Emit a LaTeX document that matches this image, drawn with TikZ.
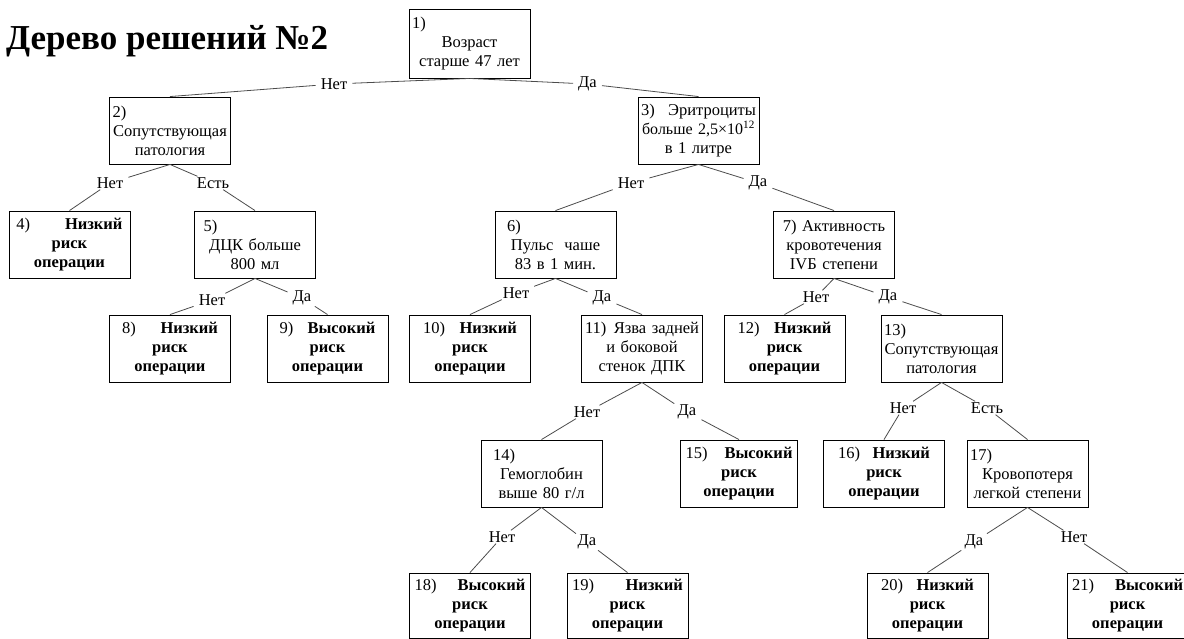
\documentclass[tikz,border=0pt]{standalone}
\usepackage{fontspec}
\setmainfont{Liberation Serif}
\newcommand{\bx}{\fontsize{16.5}{19}\selectfont}
\newcommand{\spread}[3]{\makebox[#1pt]{#2\hfill#3}}
\begin{document}
\begin{tikzpicture}[x=1pt, y=-1pt,
    box/.style={draw, line width=0.9pt, inner xsep=3pt, inner ysep=0pt, text width=115pt, minimum height=67pt, align=center, font=\bx},
    ans/.style={inner xsep=5pt, inner ysep=1pt, font=\bx},
    link/.style={draw=black!70, line width=0.8pt}]
    \useasboundingbox (0,0) rectangle (1184,639);
    % title
    \node[anchor=base west, inner sep=0pt, font=\fontsize{35}{40}\selectfont\bfseries] (title) at (6,50) {Дерево решений №2};
    % root
    \node[box, minimum height=69pt] (b1) at (469.5,43.5) {1)\hfill\mbox{}\\Возраст\\старше 47 лет};
    % second level
    \node[box] (b2) at (170,130.5) {2)\hfill\mbox{}\\Сопутствующая\\патология};
    \node[box] (b3) at (698.5,130.5) {\spread{115}{3)}{Эритроциты}\\\makebox[115pt]{\fontsize{16}{19}\selectfont больше 2,5×10\textsuperscript{12}}\\в 1 литре};
    % third level
    \node[box] (b4) at (69.5,244.5) {\spread{106}{4)}{\textbf{Низкий}}\\\textbf{риск}\\\textbf{операции}};
    \node[box] (b5) at (255,244.5) {\hspace*{6pt}5)\hfill\mbox{}\\ДЦК больше\\800 мл};
    \node[box] (b6) at (555.5,244.5) {\hspace*{9pt}6)\hfill\mbox{}\\Пульс\ \ чаше\\83 в 1 мин.};
    \node[box] (b7) at (834,244.5) {7) Активность\\кровотечения\\IVБ степени};
    % fourth level
    \node[box] (b8) at (170,348.5) {\spread{96}{8)}{\textbf{Низкий}}\\\textbf{риск}\\\textbf{операции}};
    \node[box] (b9) at (327.5,348.5) {\spread{96}{9)}{\textbf{Высокий}}\\\textbf{риск}\\\textbf{операции}};
    \node[box] (b10) at (470,348.5) {\spread{94}{10)}{\textbf{Низкий}}\\\textbf{риск}\\\textbf{операции}};
    \node[box] (b11) at (642,348.5) {\spread{114}{11)}{Язва задней}\\и боковой\\стенок ДПК};
    \node[box] (b12) at (784.5,348.5) {\spread{94}{12)}{\textbf{Низкий}}\\\textbf{риск}\\\textbf{операции}};
    \node[box] (b13) at (941.5,348.5) {13)\hfill\mbox{}\\Сопутствующая\\патология};
    % fifth level
    \node[box] (b14) at (541.5,473.5) {\hspace*{9pt}14)\hfill\mbox{}\\Гемоглобин\\выше 80 г/л};
    \node[box, text width=111pt] (b15) at (739,473.5) {\spread{107}{15)}{\textbf{Высокий}}\\\textbf{риск}\\\textbf{операции}};
    \node[box] (b16) at (884,473.5) {\spread{92}{16)}{\textbf{Низкий}}\\\textbf{риск}\\\textbf{операции}};
    \node[box] (b17) at (1027.5,473.5) {17)\hfill\mbox{}\\Кровопотеря\\легкой степени};
    % sixth level
    \node[box, minimum height=65pt] (b18) at (470,605.5) {\spread{111}{18)}{\textbf{Высокий}}\\\textbf{риск}\\\textbf{операции}};
    \node[box, minimum height=65pt] (b19) at (627.5,605.5) {\spread{111}{19)}{\textbf{Низкий}}\\\textbf{риск}\\\textbf{операции}};
    \node[box, minimum height=65pt] (b20) at (927.5,605.5) {\spread{93}{20)}{\textbf{Низкий}}\\\textbf{риск}\\\textbf{операции}};
    \node[box, minimum height=65pt] (b21) at (1127.5,605.5) {\spread{111}{21)}{\textbf{Высокий}}\\\textbf{риск}\\\textbf{операции}};
    % answers
    \node[ans] (n1) at (334,84) {Нет};
    \node[ans] (d1) at (587.5,84) {Да};
    \node[ans] (n2) at (110,183) {Нет};
    \node[ans] (e2) at (213,183) {Есть};
    \node[ans] (n3) at (631,183) {Нет};
    \node[ans] (d3) at (758,183) {Да};
    \node[ans] (n5) at (212,300) {Нет};
    \node[ans] (d5) at (302,298) {Да};
    \node[ans] (n6) at (516,293) {Нет};
    \node[ans] (d6) at (602,298) {Да};
    \node[ans] (n7) at (816,297) {Нет};
    \node[ans] (d7) at (888,297) {Да};
    \node[ans] (n11) at (587,412) {Нет};
    \node[ans] (d11) at (687,412) {Да};
    \node[ans] (n13) at (903,408) {Нет};
    \node[ans] (e13) at (987,408) {Есть};
    \node[ans] (n14) at (502,537) {Нет};
    \node[ans] (d14) at (587,542) {Да};
    \node[ans] (d17) at (974,542) {Да};
    \node[ans] (n17) at (1074,537) {Нет};
    % links
    \draw[link] (b1.south) -- (n1);
    \draw[link] (n1) -- (b2.north);
    \draw[link] (b1.south) -- (d1);
    \draw[link] (d1) -- (b3.north);
    \draw[link] (b2.south) -- (n2);
    \draw[link] (n2) -- (b4.north);
    \draw[link] (b2.south) -- (e2);
    \draw[link] (e2) -- (b5.north);
    \draw[link] (b3.south) -- (n3);
    \draw[link] (n3) -- (b6.north);
    \draw[link] (b3.south) -- (d3);
    \draw[link] (d3) -- (b7.north);
    \draw[link] (b5.south) -- (n5);
    \draw[link] (n5) -- (b8.north);
    \draw[link] (b5.south) -- (d5);
    \draw[link] (d5) -- (b9.north);
    \draw[link] (b6.south) -- (n6);
    \draw[link] (n6) -- (b10.north);
    \draw[link] (b6.south) -- (d6);
    \draw[link] (d6) -- (b11.north);
    \draw[link] (b7.south) -- (n7);
    \draw[link] (n7) -- (b12.north);
    \draw[link] (b7.south) -- (d7);
    \draw[link] (d7) -- (b13.north);
    \draw[link] (b11.south) -- (n11);
    \draw[link] (n11) -- (b14.north);
    \draw[link] (b11.south) -- (d11);
    \draw[link] (d11) -- (b15.north);
    \draw[link] (b13.south) -- (n13);
    \draw[link] (n13) -- (b16.north);
    \draw[link] (b13.south) -- (e13);
    \draw[link] (e13) -- (b17.north);
    \draw[link] (b14.south) -- (n14);
    \draw[link] (n14) -- (b18.north);
    \draw[link] (b14.south) -- (d14);
    \draw[link] (d14) -- (b19.north);
    \draw[link] (b17.south) -- (d17);
    \draw[link] (d17) -- (b20.north);
    \draw[link] (b17.south) -- (n17);
    \draw[link] (n17) -- (b21.north);
\end{tikzpicture}
\end{document}
